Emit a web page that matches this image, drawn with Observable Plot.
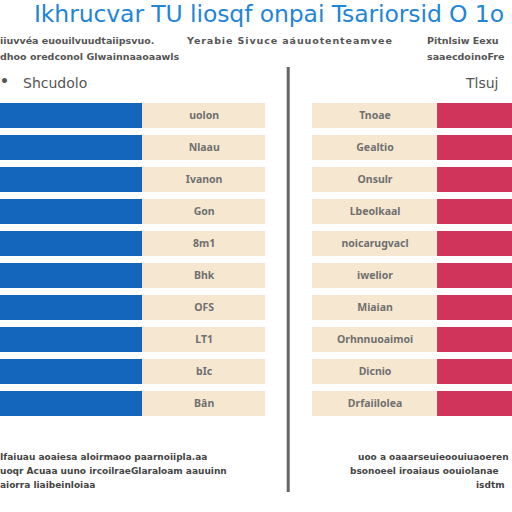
<!DOCTYPE html>
<html><head><meta charset="utf-8">
<script src="https://cdn.jsdelivr.net/npm/d3@7"></script>
<script src="https://cdn.jsdelivr.net/npm/@observablehq/plot@0.6"></script>
<style>
body{margin:0;background:#fff;}
#wrap{position:relative;width:512px;height:512px;overflow:hidden;font-family:"DejaVu Sans",sans-serif;background:#fff;}
#wrap svg{position:absolute;left:0;top:0;}
.t{position:absolute;white-space:nowrap;color:#555;font-weight:bold;}
</style></head><body><div id="wrap"></div>
<script>
// ---- data ----
const rowIds = ["r1","r2","r3","r4","r5","r6","r7","r8","r9","r10"];
const leftLabels = ["uolon","Nlaau","Ivanon","Gon","8m1","Bhk","OFS","LT1","bIc","Bân"];
const rightLabels = ["Tnoae","Gealtio","Onsulr","Lbeolkaal","noicarugvacl","iwelior","Miaian","Orhnnuoaimoi","Dicnio","Drfaiilolea"];
const blueValues = [100,100,100,100,100,100,100,100,100,100];
const redValues  = [100,100,100,100,100,100,100,100,100,100];

const title = "Ikhrucvar TU liosqf onpai Tsariorsid O 1o";
const subLeft = ["iiuvvéa euouilvuudtaiipsvuo.", "dhoo oredconol Glwainnaaoaawls"];
const subMid = "Yerabie Sivuce aáuuotenteamvee";
const subRight = ["Pitnlsiw Eexu", "saaecdoinoFre"];
const headLeft = "Shcudolo";
const headRight = "Tlsuj";
const noteLeft = ["Ifaiuau aoaiesa aloirmaoo paarnoiipla.aa", "uoqr Acuaa uuno ircoilraeGlaraloam aauuinn", "aiorra liaibeinloiaa"];
const noteRight = ["uoo a oaaarseuieoouiuaoeren", "bsonoeel iroaiaus oouiolanae", "isdtm"];

// ---- layout (in x-scale units) ----
const cellWidth = 86.4;
const rCellStart = 219.4, rCellEnd = 307.3;
const divider = 202.3;

const rows = rowIds.map((id, i) => ({
  id, left: leftLabels[i], right: rightLabels[i], blue: blueValues[i], red: redValues[i]
}));

const blue = "#1466bd", red = "#d1345a", beige = "#f6e7d0";

const chart = Plot.plot({
  width: 512, height: 512,
  margin: 0,
  x: {domain: [0, 360], range: [0, 512], axis: null},
  y: {domain: rowIds, range: [100, 418], paddingInner: 0.22, paddingOuter: 0, axis: null},
  style: {background: "transparent", overflow: "hidden"},
  marks: [
    Plot.barX(rows, {y: "id", x1: 0, x2: "blue", fill: blue}),
    Plot.barX(rows, {y: "id", x1: d => d.blue, x2: d => d.blue + cellWidth, fill: beige}),
    Plot.text(rows, {y: "id", x: d => d.blue + cellWidth / 2, text: "left", fill: "#707070", fontSize: 10.5, fontWeight: "bold"}),
    Plot.barX(rows, {y: "id", x1: rCellStart, x2: rCellEnd, fill: beige}),
    Plot.text(rows, {y: "id", x: (rCellStart + rCellEnd) / 2, text: "right", fill: "#707070", fontSize: 10.5, fontWeight: "bold"}),
    Plot.barX(rows, {y: "id", x1: rCellEnd, x2: d => rCellEnd + d.red, fill: red, clip: true}),
    Plot.ruleX([divider], {stroke: "#666", strokeWidth: 3, insetTop: 67, insetBottom: 20})
  ]
});
const wrap = document.getElementById("wrap");
wrap.appendChild(chart);

function addText(str, left, top, size, color, extra) {
  const d = document.createElement("div");
  d.className = "t";
  d.textContent = str;
  d.style.left = left + "px";
  d.style.top = top + "px";
  d.style.fontSize = size + "px";
  d.style.lineHeight = "1.15";
  if (color) d.style.color = color;
  if (extra) Object.assign(d.style, extra);
  wrap.appendChild(d);
  return d;
}
addText(title, 34, 1, 23.5, "#1f85d8", {fontWeight: "normal", letterSpacing: "-0.1px"});
addText(subLeft[0], 0, 36, 9.5, "#555");
addText(subLeft[1], 0, 52, 9.5, "#555");
addText(subMid, 187, 36, 9.5, "#555", {letterSpacing: "0.9px"});
addText(subRight[0], 427, 36, 9.5, "#555");
addText(subRight[1], 427, 52, 9.5, "#555");
addText("•", 0, 73, 14, "#555");
addText(headLeft, 23, 75, 14, "#555", {fontWeight: "normal"});
addText(headRight, 466, 75, 14, "#555", {fontWeight: "normal"});
noteLeft.forEach((s, i) => addText(s, 0, 452 + i * 14, 9, "#444"));
addText(noteRight[0], 358, 452, 9, "#444");
addText(noteRight[1], 350, 466, 9, "#444");
addText(noteRight[2], 476, 480, 9, "#444");
</script></body></html>
